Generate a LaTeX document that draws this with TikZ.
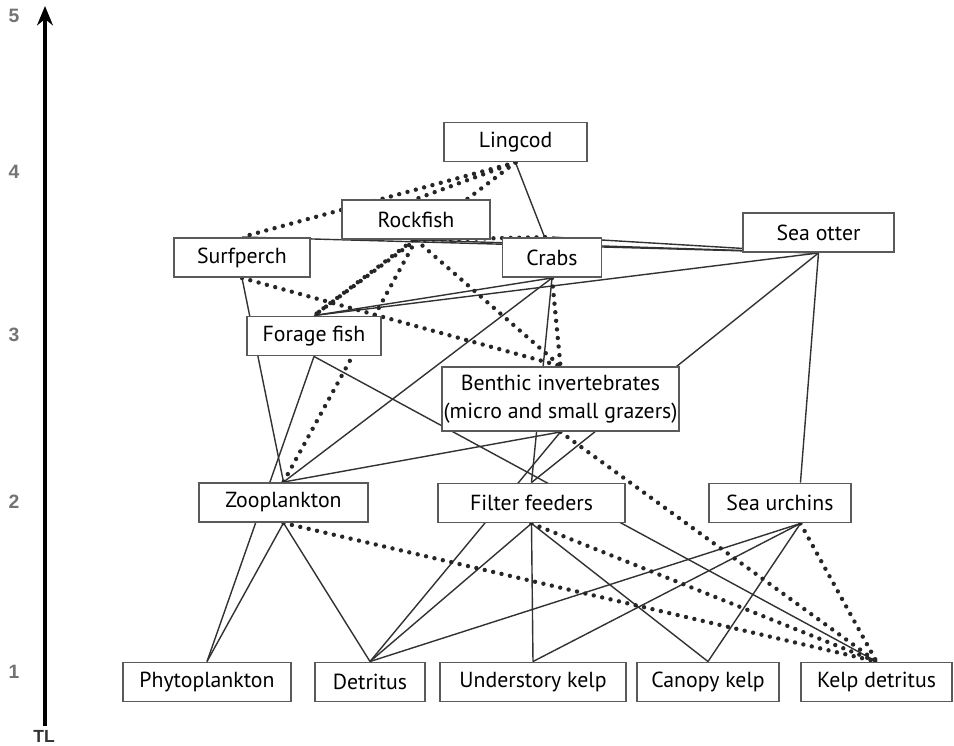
\documentclass[tikz,border=0pt]{standalone}
\usepackage{fontspec}
\usetikzlibrary{arrows.meta,backgrounds}
\newfontfamily\boxfont{PT Sans}
\newfontfamily\axisfont{Liberation Sans}
\definecolor{boxgray}{RGB}{90,90,90}
\definecolor{linegray}{RGB}{50,50,50}
\definecolor{tickgray}{RGB}{115,115,115}

\begin{document}
\begin{tikzpicture}[scale=0.2]
      \tikzstyle{every node}+=[inner sep=0pt]
      \tikzstyle{sp}=[draw=boxgray, line width=1.1pt, fill=white, minimum height=0.78cm, font=\boxfont\fontsize{12.4}{16}\selectfont]
      \tikzstyle{eats}=[draw=linegray, line width=0.8pt]
      \tikzstyle{weak}=[draw=black!85, line width=2.5pt, line cap=round, dash pattern=on 0pt off 4.9pt]
      \tikzstyle{tick}=[text=tickgray, font=\axisfont\bfseries\fontsize{11}{13}\selectfont]
      \useasboundingbox (0,0) rectangle (95.4,-74.6);
      % trophic level axis
      \draw [black, line width=2.4pt, -{Stealth[length=11pt, width=9pt]}] (4.5,-72.6) -- (4.5,-0.6);
      \node [tick] (tl5) at (1.4,-1.6) {5};
      \node [tick] (tl4) at (1.4,-17.2) {4};
      \node [tick] (tl3) at (1.4,-33.5) {3};
      \node [tick] (tl2) at (1.4,-50.2) {2};
      \node [tick] (tl1) at (1.4,-67.2) {1};
      \node [font=\axisfont\bfseries\fontsize{10}{12}\selectfont, text=black!80] (tl) at (4.4,-73.6) {TL};
      % species boxes
      \node [sp, minimum width=2.86cm] (lingcod) at (51.55,-14.2) {Lingcod};
      \node [sp, minimum width=2.96cm] (rockfish) at (41.6,-21.95) {Rockfish};
      \node [sp, minimum width=2.72cm] (surfperch) at (24.2,-25.75) {Surfperch};
      \node [sp, minimum width=1.98cm] (crabs) at (55.2,-25.75) {Crabs};
      \node [sp, minimum width=3.02cm] (seaotter) at (81.85,-23.25) {Sea otter};
      \node [sp, minimum width=2.68cm] (forage) at (31.4,-33.6) {Forage fish};
      \node [sp, minimum width=4.74cm, minimum height=1.28cm, align=center] (benthic) at (56.05,-39.9) {Benthic invertebrates\\(micro and small grazers)};
      \node [sp, minimum width=3.38cm] (zoo) at (28.35,-50.25) {Zooplankton};
      \node [sp, minimum width=3.74cm] (filter) at (53.15,-50.3) {Filter feeders};
      \node [sp, minimum width=2.84cm] (urchins) at (78,-50.3) {Sea urchins};
      \node [sp, minimum width=3.36cm] (phyto) at (20.7,-68.2) {Phytoplankton};
      \node [sp, minimum width=2.2cm] (detritus) at (37,-68.2) {Detritus};
      \node [sp, minimum width=3.72cm] (understory) at (53.3,-68.2) {Understory kelp};
      \node [sp, minimum width=2.84cm] (canopy) at (70.8,-68.2) {Canopy kelp};
      \node [sp, minimum width=3.02cm] (kelpdet) at (87.65,-68.2) {Kelp detritus};
      \begin{pgfonlayer}{background}
      % strong links
      \draw [eats] (lingcod.south) -- (crabs.110);
      \draw [eats] (seaotter.south) -- (surfperch.north);
      \draw [eats] (seaotter.south) -- (rockfish.south);
      \draw [eats] (seaotter.south) -- (crabs.north);
      \draw [eats] (seaotter.south) -- (forage.north);
      \draw [eats] (seaotter.south) -- (filter.north);
      \draw [eats] (seaotter.south) -- (urchins.45);
      \draw [eats] (surfperch.south) -- (zoo.north);
      \draw [eats] (crabs.south) -- (forage.north);
      \draw [eats] (crabs.south) -- (zoo.north);
      \draw [eats] (crabs.south) -- (filter.north);
      \draw [eats] (forage.south) -- (phyto.north);
      \draw [eats] (forage.south) -- (kelpdet.north);
      \draw [eats] (benthic.south) -- (zoo.north);
      \draw [eats] (benthic.south) -- (detritus.north);
      \draw [eats] (zoo.south) -- (phyto.north);
      \draw [eats] (zoo.south) -- (detritus.north);
      \draw [eats] (filter.south) -- (detritus.north);
      \draw [eats] (filter.south) -- (understory.north);
      \draw [eats] (filter.south) -- (canopy.north);
      \draw [eats] (urchins.-45) -- (detritus.north);
      \draw [eats] (urchins.-45) -- (understory.north);
      \draw [eats] (urchins.-45) -- (canopy.north);
      % weak links
      \draw [weak] (lingcod.south) -- (surfperch.north);
      \draw [weak] (lingcod.south) -- (rockfish.north);
      \draw [weak] (lingcod.south) -- (forage.north);
      \draw [weak] (rockfish.south) -- (forage.north);
      \draw [weak] (rockfish.south) -- (zoo.north);
      \draw [weak] (rockfish.south) -- (benthic.north);
      \draw [weak] (rockfish.south) -- (crabs.north);
      \draw [weak] (surfperch.south) -- (benthic.north);
      \draw [weak] (crabs.south) -- (benthic.north);
      \draw [weak] (benthic.south) -- (kelpdet.north);
      \draw [weak] (zoo.south) -- (kelpdet.north);
      \draw [weak] (filter.south) -- (kelpdet.north);
      \draw [weak] (urchins.-45) -- (kelpdet.north);
      \end{pgfonlayer}
    \end{tikzpicture}
\end{document}
